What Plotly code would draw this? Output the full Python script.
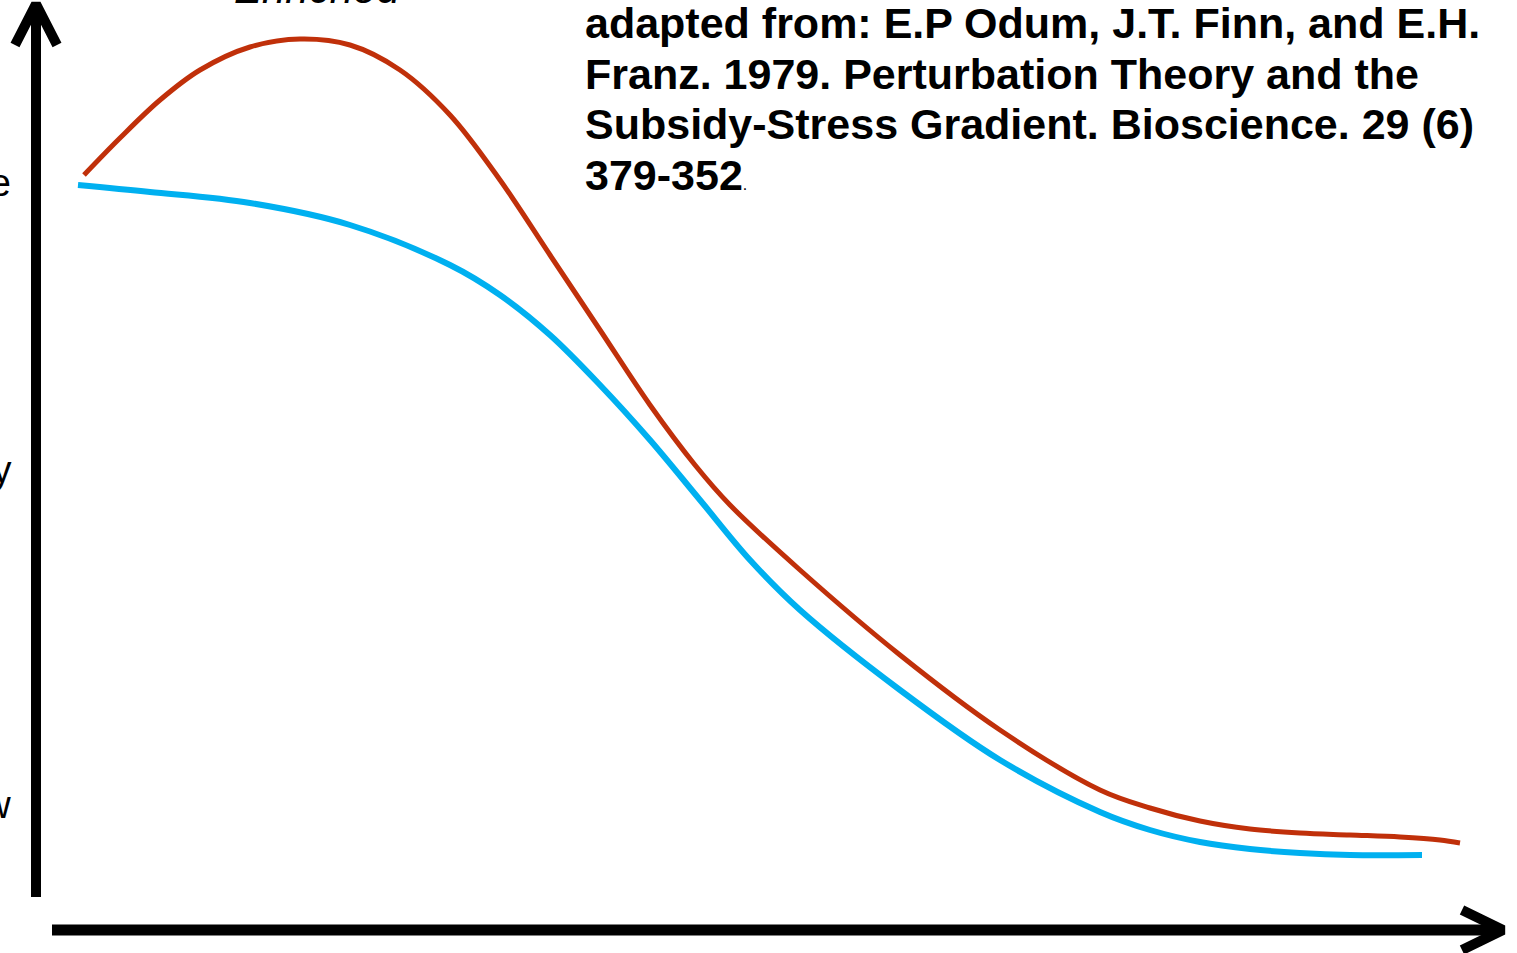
import plotly.graph_objects as go

red_x = [84, 120, 160, 200, 250, 300, 350, 400, 450, 500, 550, 600, 650, 695, 730, 800, 900, 1000, 1100, 1150, 1200, 1250, 1300, 1350, 1400, 1440, 1460]
red_y = [175, 138, 100, 70, 47, 39, 45, 70, 115, 180, 255, 330, 405, 465, 505, 570, 655, 730, 790, 808, 821, 829, 833, 835, 837, 840, 843]
blue_x = [78, 150, 250, 350, 450, 500, 550, 600, 650, 700, 750, 800, 900, 1000, 1100, 1150, 1200, 1250, 1300, 1350, 1422]
blue_y = [185, 192, 203, 225, 265, 295, 335, 385, 440, 500, 560, 610, 690, 760, 812, 830, 842, 849, 853, 855, 855]

citation = ["adapted from: E.P Odum, J.T. Finn, and E.H.",
            "Franz. 1979. Perturbation Theory and the",
            "Subsidy-Stress Gradient. Bioscience. 29 (6)",
            "379-352"]
citation_baselines = [37, 88, 138, 189]

fig = go.Figure()

# axes with arrows
fig.add_trace(go.Scatter(x=[36, 36], y=[897, 8], mode="lines", line=dict(color="black", width=10), hoverinfo="skip"))
fig.add_trace(go.Scatter(x=[15, 36, 57], y=[45, 4, 45], mode="lines", line=dict(color="black", width=10), hoverinfo="skip"))
fig.add_trace(go.Scatter(x=[52, 1500], y=[930, 930], mode="lines", line=dict(color="black", width=11), hoverinfo="skip"))
fig.add_trace(go.Scatter(x=[1462, 1503, 1462], y=[910, 930, 950], mode="lines", line=dict(color="black", width=10), hoverinfo="skip"))

fig.add_trace(go.Scatter(x=red_x, y=red_y, mode="lines", line=dict(color="#C0300A", width=5, shape="spline", smoothing=1.0), hoverinfo="skip"))
fig.add_trace(go.Scatter(x=blue_x, y=blue_y, mode="lines", line=dict(color="#00B0F0", width=6, shape="spline", smoothing=1.0), hoverinfo="skip"))

FS = 43
for i, (line, base) in enumerate(zip(citation, citation_baselines)):
    txt = "<b>" + line + "</b>"
    if i == len(citation) - 1:
        txt += "<span style='font-size:16px'>.</span>"
    fig.add_annotation(x=583, y=base - 0.33 * FS, xref="x", yref="y", xanchor="left", yanchor="middle",
                       showarrow=False, text=txt,
                       font=dict(family="Liberation Sans, Arial", size=FS, color="black"))
fig.add_annotation(x=317, y=14, xref="x", yref="y", xanchor="center", yanchor="bottom", showarrow=False,
                   text="<i>Enriched</i>", font=dict(family="Liberation Sans, Arial", size=42, color="black"))
for txt, yy in [("Baseline", 183), ("Productivity", 470), ("Low", 805)]:
    fig.add_annotation(x=13, y=yy, xref="x", yref="y", xanchor="right", yanchor="middle", showarrow=False,
                       text=txt, font=dict(family="Liberation Sans, Arial", size=38, color="black"))

fig.update_layout(width=1517, height=953, margin=dict(l=0, r=0, t=0, b=0),
                  paper_bgcolor="white", plot_bgcolor="white", showlegend=False,
                  xaxis=dict(range=[0, 1517], visible=False, fixedrange=True),
                  yaxis=dict(range=[953, 0], visible=False, fixedrange=True))
fig.write_html("out.html", config={"displayModeBar": False},
               post_script="document.body.style.margin='0';document.body.style.overflow='hidden';")
